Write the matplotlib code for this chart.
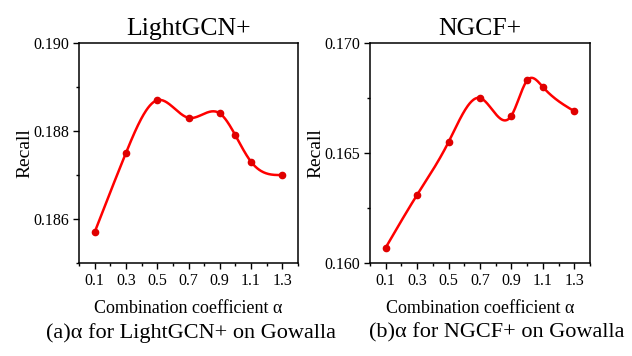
import numpy as np
import matplotlib.pyplot as plt
from matplotlib.ticker import MultipleLocator, FormatStrFormatter

plt.rcParams['font.family'] = ['Liberation Serif', 'DejaVu Serif']
plt.rcParams['mathtext.fontset'] = 'stix'

alpha = [0.1, 0.3, 0.5, 0.7, 0.9, 1.0, 1.1, 1.3]
recall_lightgcn = [0.1857, 0.1875, 0.1887, 0.1883, 0.1884, 0.1879, 0.1873, 0.1870]
recall_ngcf = [0.1607, 0.1631, 0.1655, 0.1675, 0.1667, 0.1683, 0.1680, 0.1669]


def spline(x, y, n=300):
    # natural cubic spline, just for drawing the smooth line
    x = np.asarray(x, float)
    y = np.asarray(y, float)
    k = len(x)
    h = np.diff(x)
    A = np.zeros((k, k))
    b = np.zeros(k)
    A[0, 0] = A[-1, -1] = 1
    for i in range(1, k - 1):
        A[i, i - 1] = h[i - 1]
        A[i, i] = 2 * (h[i - 1] + h[i])
        A[i, i + 1] = h[i]
        b[i] = 6 * ((y[i + 1] - y[i]) / h[i] - (y[i] - y[i - 1]) / h[i - 1])
    m = np.linalg.solve(A, b)
    xs = np.linspace(x[0], x[-1], n)
    j = np.clip(np.searchsorted(x, xs) - 1, 0, k - 2)
    t = xs - x[j]
    hj = h[j]
    a = (m[j + 1] - m[j]) / (6 * hj)
    c = (y[j + 1] - y[j]) / hj - hj * (2 * m[j] + m[j + 1]) / 6
    ys = y[j] + c * t + m[j] / 2 * t ** 2 + a * t ** 3
    return xs, ys


fig = plt.figure(figsize=(6.32, 3.56), dpi=100)
W, H = 632, 356
ax1 = fig.add_axes([79 / W, 1 - 263 / H, 219 / W, 220 / H])
ax2 = fig.add_axes([370 / W, 1 - 263 / H, 220 / W, 220 / H])

panels = [
    (ax1, recall_lightgcn, 'LightGCN+', (0.185, 0.190), 0.002, 0.001, '%.3f'),
    (ax2, recall_ngcf, 'NGCF+', (0.160, 0.170), 0.005, 0.0025, '%.3f'),
]

for ax, rec, title, ylim, major, minor, fmt in panels:
    xs, ys = spline(alpha, rec)
    ax.plot(xs, ys, color='#ff0000', lw=1.8, zorder=2)
    ax.plot(alpha, rec, 'o', color='#e00000', ms=4.5, zorder=3)
    ax.set_xlim(0, 1.4)
    ax.set_ylim(*ylim)
    ax.set_xticks([0.1, 0.3, 0.5, 0.7, 0.9, 1.1, 1.3])
    ax.xaxis.set_minor_locator(MultipleLocator(0.1))
    ax.yaxis.set_major_locator(MultipleLocator(major))
    ax.yaxis.set_minor_locator(MultipleLocator(minor))
    ax.yaxis.set_major_formatter(FormatStrFormatter(fmt))
    ax.tick_params(which='major', direction='out', length=4, width=1, labelsize=11.5, pad=3)
    ax.tick_params(which='minor', direction='out', length=2, width=1)
    ax.tick_params(top=False, right=False, which='both')
    for s in ax.spines.values():
        s.set_linewidth(1.1)
    ax.set_title(title, fontsize=18.5, pad=6)
    ax.set_ylabel('Recall', fontsize=14, labelpad=0)
    ax.set_xlabel('Combination coefficient α', fontsize=13, labelpad=8)

fig.text(191 / W, 1 - 333 / H, '(a)α for LightGCN+ on Gowalla', fontsize=16, ha='center', va='center')
fig.text(497 / W, 1 - 333 / H, '(b)α for NGCF+ on Gowalla', fontsize=16, ha='center', va='center')

fig.savefig('out.png', dpi=100)
